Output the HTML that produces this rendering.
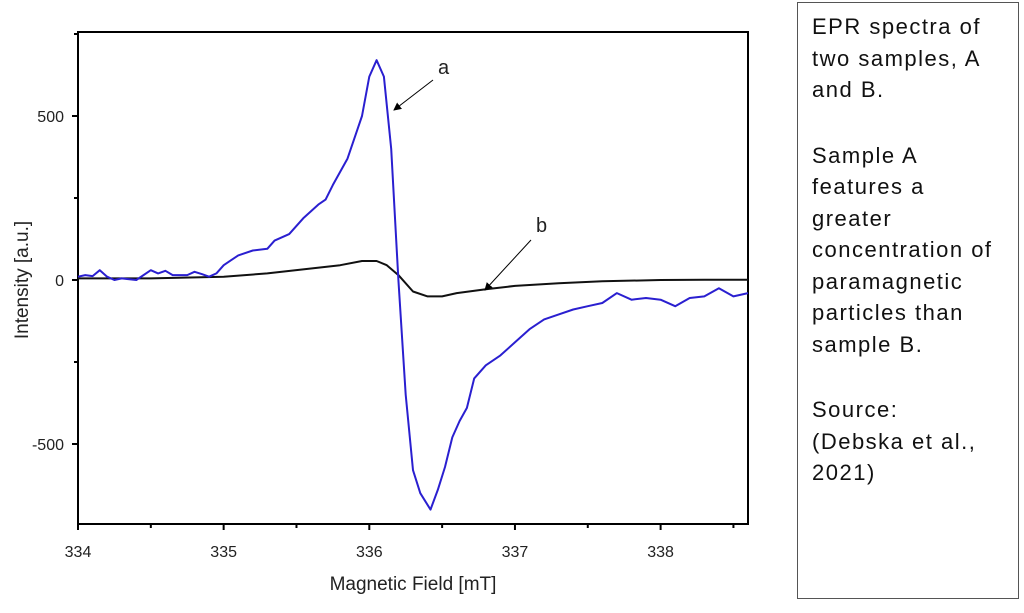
<!DOCTYPE html>
<html><head><meta charset="utf-8"><style>
body{margin:0;width:1024px;height:613px;background:#fff;overflow:hidden;font-family:"Liberation Sans",Arial,sans-serif}
#note{position:absolute;left:797px;top:2px;width:222px;height:597px;border:1px solid #555;box-sizing:border-box;padding:8px 0 0 14px;font-size:22px;letter-spacing:1.5px;line-height:31.5px;color:#111;white-space:nowrap}
#note p{margin:0 0 34px 0}
</style></head><body>
<svg id="chart" width="790" height="613" style="position:absolute;left:0;top:0" font-family="Liberation Sans, Arial, sans-serif"></svg>
<div id="note">
<p>EPR spectra of<br>two samples, A<br>and B.</p>
<p>Sample A<br>features a<br>greater<br>concentration of<br>paramagnetic<br>particles than<br>sample B.</p>
<p>Source:<br>(Debska et al.,<br>2021)</p>
</div>
<script>
const xTicks=[334,335,336,337,338];
const yTicks=[-500,0,500];
const fieldA=[334.0,334.05,334.1,334.15,334.2,334.25,334.3,334.4,334.5,334.55,334.6,334.65,334.75,334.8,334.85,334.9,334.95,335.0,335.05,335.1,335.2,335.3,335.35,335.45,335.55,335.65,335.7,335.75,335.85,335.95,336.0,336.05,336.1,336.15,336.2,336.25,336.3,336.35,336.42,336.47,336.52,336.57,336.62,336.67,336.72,336.8,336.9,337.0,337.1,337.2,337.3,337.4,337.5,337.6,337.7,337.8,337.9,338.0,338.1,338.2,338.3,338.4,338.5,338.6];
const intensityA=[10,15,12,30,10,0,5,0,30,20,28,15,15,25,18,10,20,45,60,75,90,95,120,140,190,230,245,290,370,500,620,670,620,400,0,-350,-580,-650,-700,-640,-570,-480,-430,-390,-300,-260,-230,-190,-150,-120,-105,-90,-80,-70,-40,-60,-55,-60,-80,-55,-50,-25,-50,-40];
const fieldB=[334.0,334.5,335.0,335.3,335.6,335.8,335.95,336.05,336.12,336.2,336.3,336.4,336.5,336.6,336.8,337.0,337.3,337.6,338.0,338.3,338.6];
const intensityB=[5,5,10,20,35,45,58,58,45,15,-35,-50,-50,-40,-28,-18,-10,-4,0,1,1];
const X0=78,X1=748,Y0=32,Y1=524;
const sx=v=>X0+(v-334)/(338.6-334)*(X1-X0);
const sy=v=>280-(v/500)*164;
const svg=document.getElementById('chart');
const NS='http://www.w3.org/2000/svg';
function mk(t,a){const e=document.createElementNS(NS,t);for(const k in a)e.setAttribute(k,a[k]);svg.appendChild(e);return e;}
let e=mk('rect',{x:X0,y:Y0,width:X1-X0,height:Y1-Y0,fill:'none',stroke:'#000','stroke-width':2});


xTicks.forEach(v=>{
 let t=mk('line',{x1:sx(v),x2:sx(v),y1:Y1,y2:Y1+6,stroke:'#000','stroke-width':2});
 
 
 let m=mk('line',{x1:sx(v+0.5),x2:sx(v+0.5),y1:Y1,y2:Y1+4,stroke:'#000','stroke-width':2});
 
 
 let l=mk('text',{x:sx(v),y:557,'text-anchor':'middle','font-size':16,fill:'#222'});l.textContent=v;
 
 
});
[-750,-250,250,750].forEach(v=>{if(sy(v)>Y0&&sy(v)<Y1){let m=mk('line',{x1:X0-4,x2:X0,y1:sy(v),y2:sy(v),stroke:'#000','stroke-width':2});
 
 }});
yTicks.forEach(v=>{
 let t=mk('line',{x1:X0-6,x2:X0,y1:sy(v),y2:sy(v),stroke:'#000','stroke-width':2});
 
 
 let l=mk('text',{x:X0-14,y:sy(v)+6,'text-anchor':'end','font-size':16,fill:'#222'});l.textContent=v;
 
 
});
let xl=mk('text',{x:413,y:590,'text-anchor':'middle','font-size':19,fill:'#222'});xl.textContent='Magnetic Field [mT]';


let yl=mk('text',{x:0,y:0,'text-anchor':'middle','font-size':19,fill:'#222',transform:'translate(28,280) rotate(-90)'});yl.textContent='Intensity [a.u.]';


function line(xs,ys,c,name){
 const d=xs.map((x,i)=>(i?'L':'M')+sx(x).toFixed(1)+','+sy(ys[i]).toFixed(1)).join('');
 let p=mk('path',{d:d,fill:'none',stroke:c,'stroke-width':2,'stroke-linejoin':'round'});
 
 
}
line(fieldB,intensityB,'#111','series-b-line');
line(fieldA,intensityA,'#2a1fd0','series-a-line');
mk('defs',{}).innerHTML='<marker id="ah" markerWidth="8" markerHeight="8" refX="7" refY="4" orient="auto"><path d="M0,0L8,4L0,8z" fill="#000"/></marker>';
let a1=mk('line',{x1:433,y1:80,x2:394,y2:110,stroke:'#000','stroke-width':1,'marker-end':'url(#ah)'});


let t1=mk('text',{x:438,y:74,'font-size':20,fill:'#222'});t1.textContent='a';


let a2=mk('line',{x1:531,y1:240,x2:485,y2:290,stroke:'#000','stroke-width':1,'marker-end':'url(#ah)'});


let t2=mk('text',{x:536,y:232,'font-size':20,fill:'#222'});t2.textContent='b';


</script>
</body></html>
